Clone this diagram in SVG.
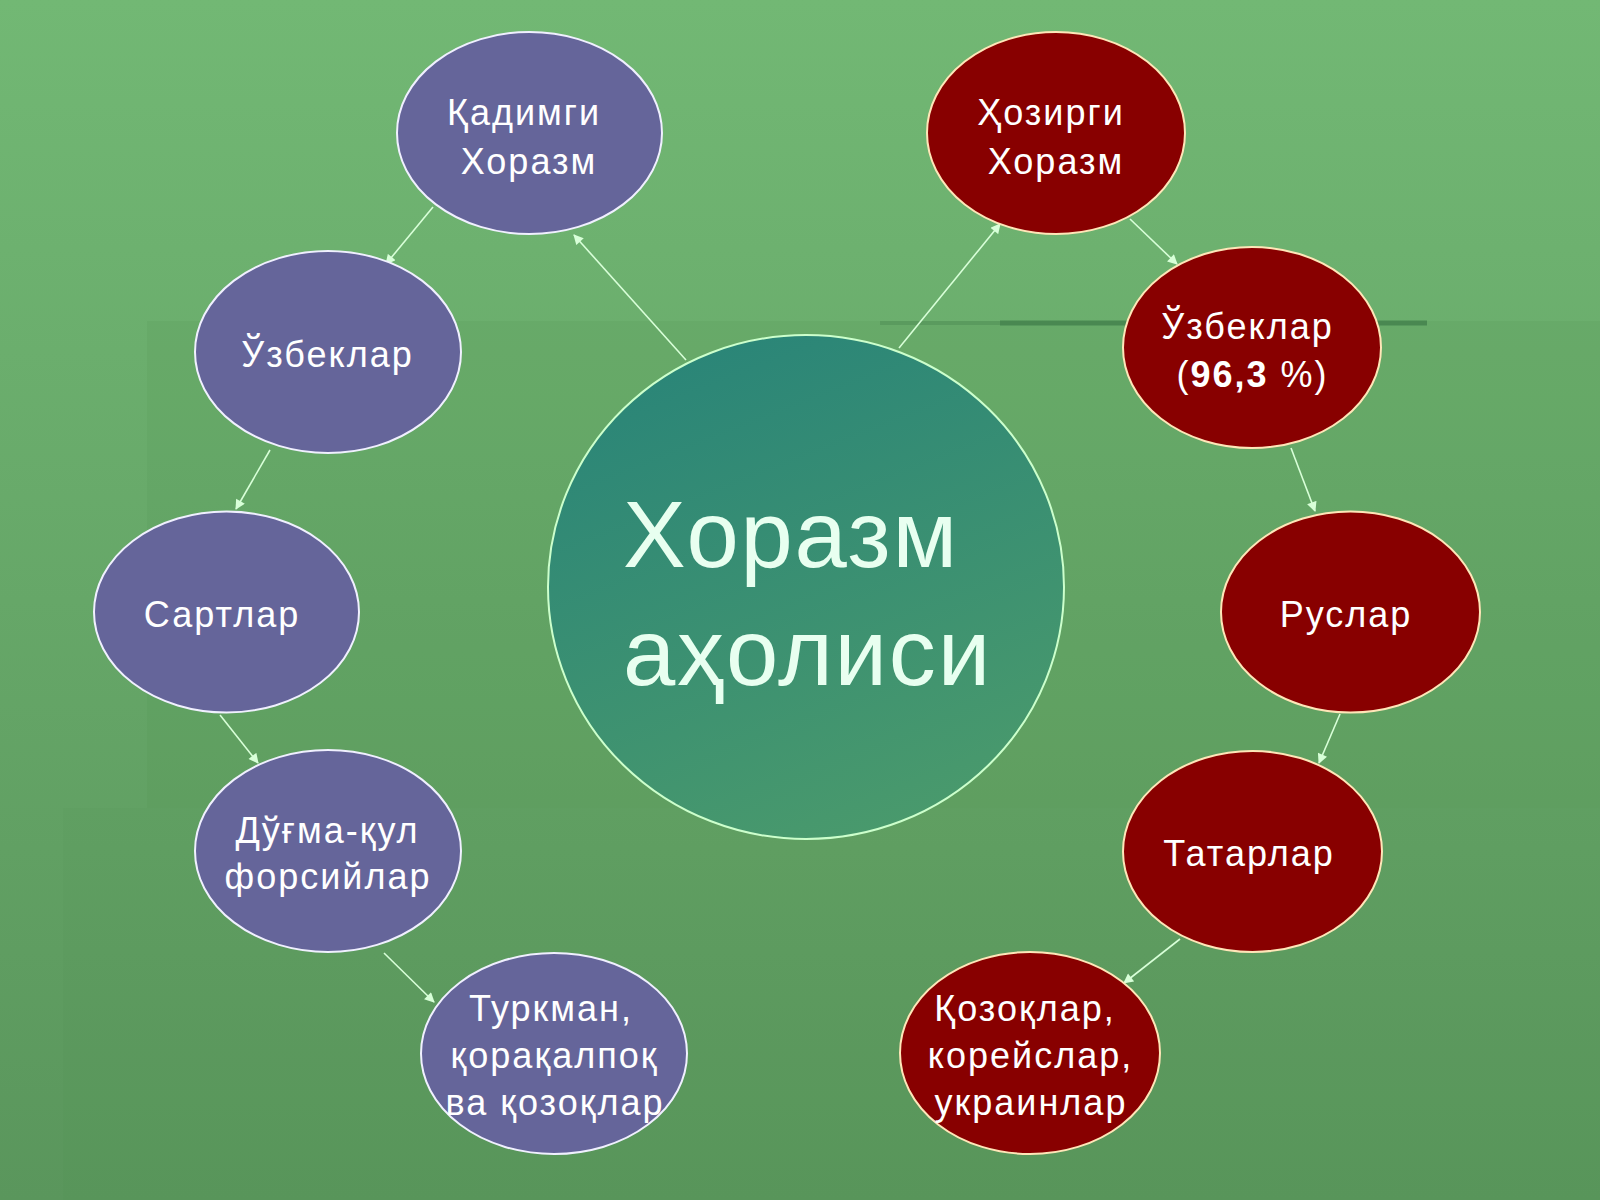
<svg xmlns="http://www.w3.org/2000/svg" width="1600" height="1200" viewBox="0 0 1600 1200">
<defs>
<linearGradient id="bg" x1="0" y1="0" x2="0" y2="1">
<stop offset="0" stop-color="#72b874"/>
<stop offset="1" stop-color="#5a965c"/>
</linearGradient>
<linearGradient id="ctr" x1="0.3" y1="0" x2="0.7" y2="1">
<stop offset="0" stop-color="#2a8578"/>
<stop offset="1" stop-color="#4a9a6c"/>
</linearGradient>
<marker id="ah" viewBox="0 0 10 10" refX="9" refY="5" markerWidth="11" markerHeight="10" orient="auto" markerUnits="userSpaceOnUse">
<path d="M0,0 L10,5 L0,10 z" fill="#d8ffd8"/>
</marker>
<style>
.blue{fill:#65659a;stroke:#f0f0ff;stroke-width:2}
.red{fill:#880000;stroke:#ffe6b8;stroke-width:2}
.t{font-family:"Liberation Sans",Arial,sans-serif;font-size:36px;letter-spacing:2px;fill:#ffffff;text-anchor:middle}
.big{font-family:"Liberation Sans",Arial,sans-serif;font-size:94px;letter-spacing:1.8px;fill:#e8fff0}
.c{stroke:#d8ffd8;stroke-width:1.6;fill:none;marker-end:url(#ah)}
</style>
</defs>
<rect x="0" y="0" width="1600" height="1200" fill="url(#bg)"/>
<rect x="147" y="321" width="1453" height="487" fill="#4a8a4a" opacity="0.12"/>
<rect x="63" y="808" width="1537" height="392" fill="#4a8a4a" opacity="0.06"/>
<line x1="880" y1="323" x2="1000" y2="323" stroke="#3d7a48" stroke-width="4" opacity="0.3"/>
<line x1="1000" y1="323" x2="1427" y2="323" stroke="#3d7a48" stroke-width="5" opacity="0.7"/>

<g id="center">
<ellipse cx="806" cy="587" rx="258" ry="252" fill="url(#ctr)" stroke="#ccffcc" stroke-width="2"/>
<text class="big" x="623" y="567">Хоразм</text>
<text class="big" x="623" y="685">аҳолиси</text>
</g>

<g id="connectors">
<line class="c" x1="686" y1="360" x2="574" y2="235"/>
<line class="c" x1="433" y1="207" x2="386" y2="264"/>
<line class="c" x1="270" y1="450" x2="236" y2="509"/>
<line class="c" x1="220" y1="715" x2="258" y2="763"/>
<line class="c" x1="384" y1="953" x2="434" y2="1002"/>
<line class="c" x1="899" y1="348" x2="1000" y2="224"/>
<line class="c" x1="1130" y1="219" x2="1177" y2="264"/>
<line class="c" x1="1291" y1="448" x2="1315" y2="511"/>
<line class="c" x1="1340" y1="714" x2="1319" y2="763"/>
<line class="c" x1="1180" y1="939" x2="1124" y2="983"/>
</g>

<g id="n-qadimgi">
<ellipse class="blue" cx="529.5" cy="133" rx="132.5" ry="101"/>
<text class="t" x="524" y="124.5">Қадимги</text>
<text class="t" x="529" y="174">Хоразм</text>
</g>
<g id="n-uzbek-left">
<ellipse class="blue" cx="328" cy="352" rx="133" ry="101"/>
<text class="t" x="327.5" y="366.5">Ўзбеклар</text>
</g>
<g id="n-sart">
<ellipse class="blue" cx="226.5" cy="612" rx="132.5" ry="100.5"/>
<text class="t" x="222" y="626.5">Сартлар</text>
</g>
<g id="n-dugma">
<ellipse class="blue" cx="328" cy="851" rx="133" ry="101"/>
<text class="t" x="327.5" y="843">Дўғма-қул</text>
<text class="t" x="328" y="889">форсийлар</text>
</g>
<g id="n-turkman">
<ellipse class="blue" cx="554" cy="1053.5" rx="133" ry="100.5"/>
<text class="t" x="551" y="1021">Туркман,</text>
<text class="t" x="554.5" y="1068">қорақалпоқ</text>
<text class="t" x="555" y="1115">ва қозоқлар</text>
</g>

<g id="n-hozirgi">
<ellipse class="red" cx="1056" cy="133" rx="129" ry="101"/>
<text class="t" x="1051" y="124.5">Ҳозирги</text>
<text class="t" x="1056" y="174">Хоразм</text>
</g>
<g id="n-uzbek-right">
<ellipse class="red" cx="1252" cy="347.5" rx="129" ry="100.5"/>
<text class="t" x="1247.5" y="339">Ўзбеклар</text>
<text class="t" x="1252.5" y="386.5">(<tspan font-weight="bold">96,3</tspan> %)</text>
</g>
<g id="n-rus">
<ellipse class="red" cx="1350.5" cy="612" rx="129.5" ry="100.5"/>
<text class="t" x="1346" y="626.5">Руслар</text>
</g>
<g id="n-tatar">
<ellipse class="red" cx="1252.5" cy="851.5" rx="129.5" ry="100.5"/>
<text class="t" x="1249" y="866">Татарлар</text>
</g>
<g id="n-qozoq">
<ellipse class="red" cx="1030" cy="1053" rx="130" ry="101"/>
<text class="t" x="1025" y="1021">Қозоқлар,</text>
<text class="t" x="1030.5" y="1068">корейслар,</text>
<text class="t" x="1031" y="1115">украинлар</text>
</g>
</svg>
